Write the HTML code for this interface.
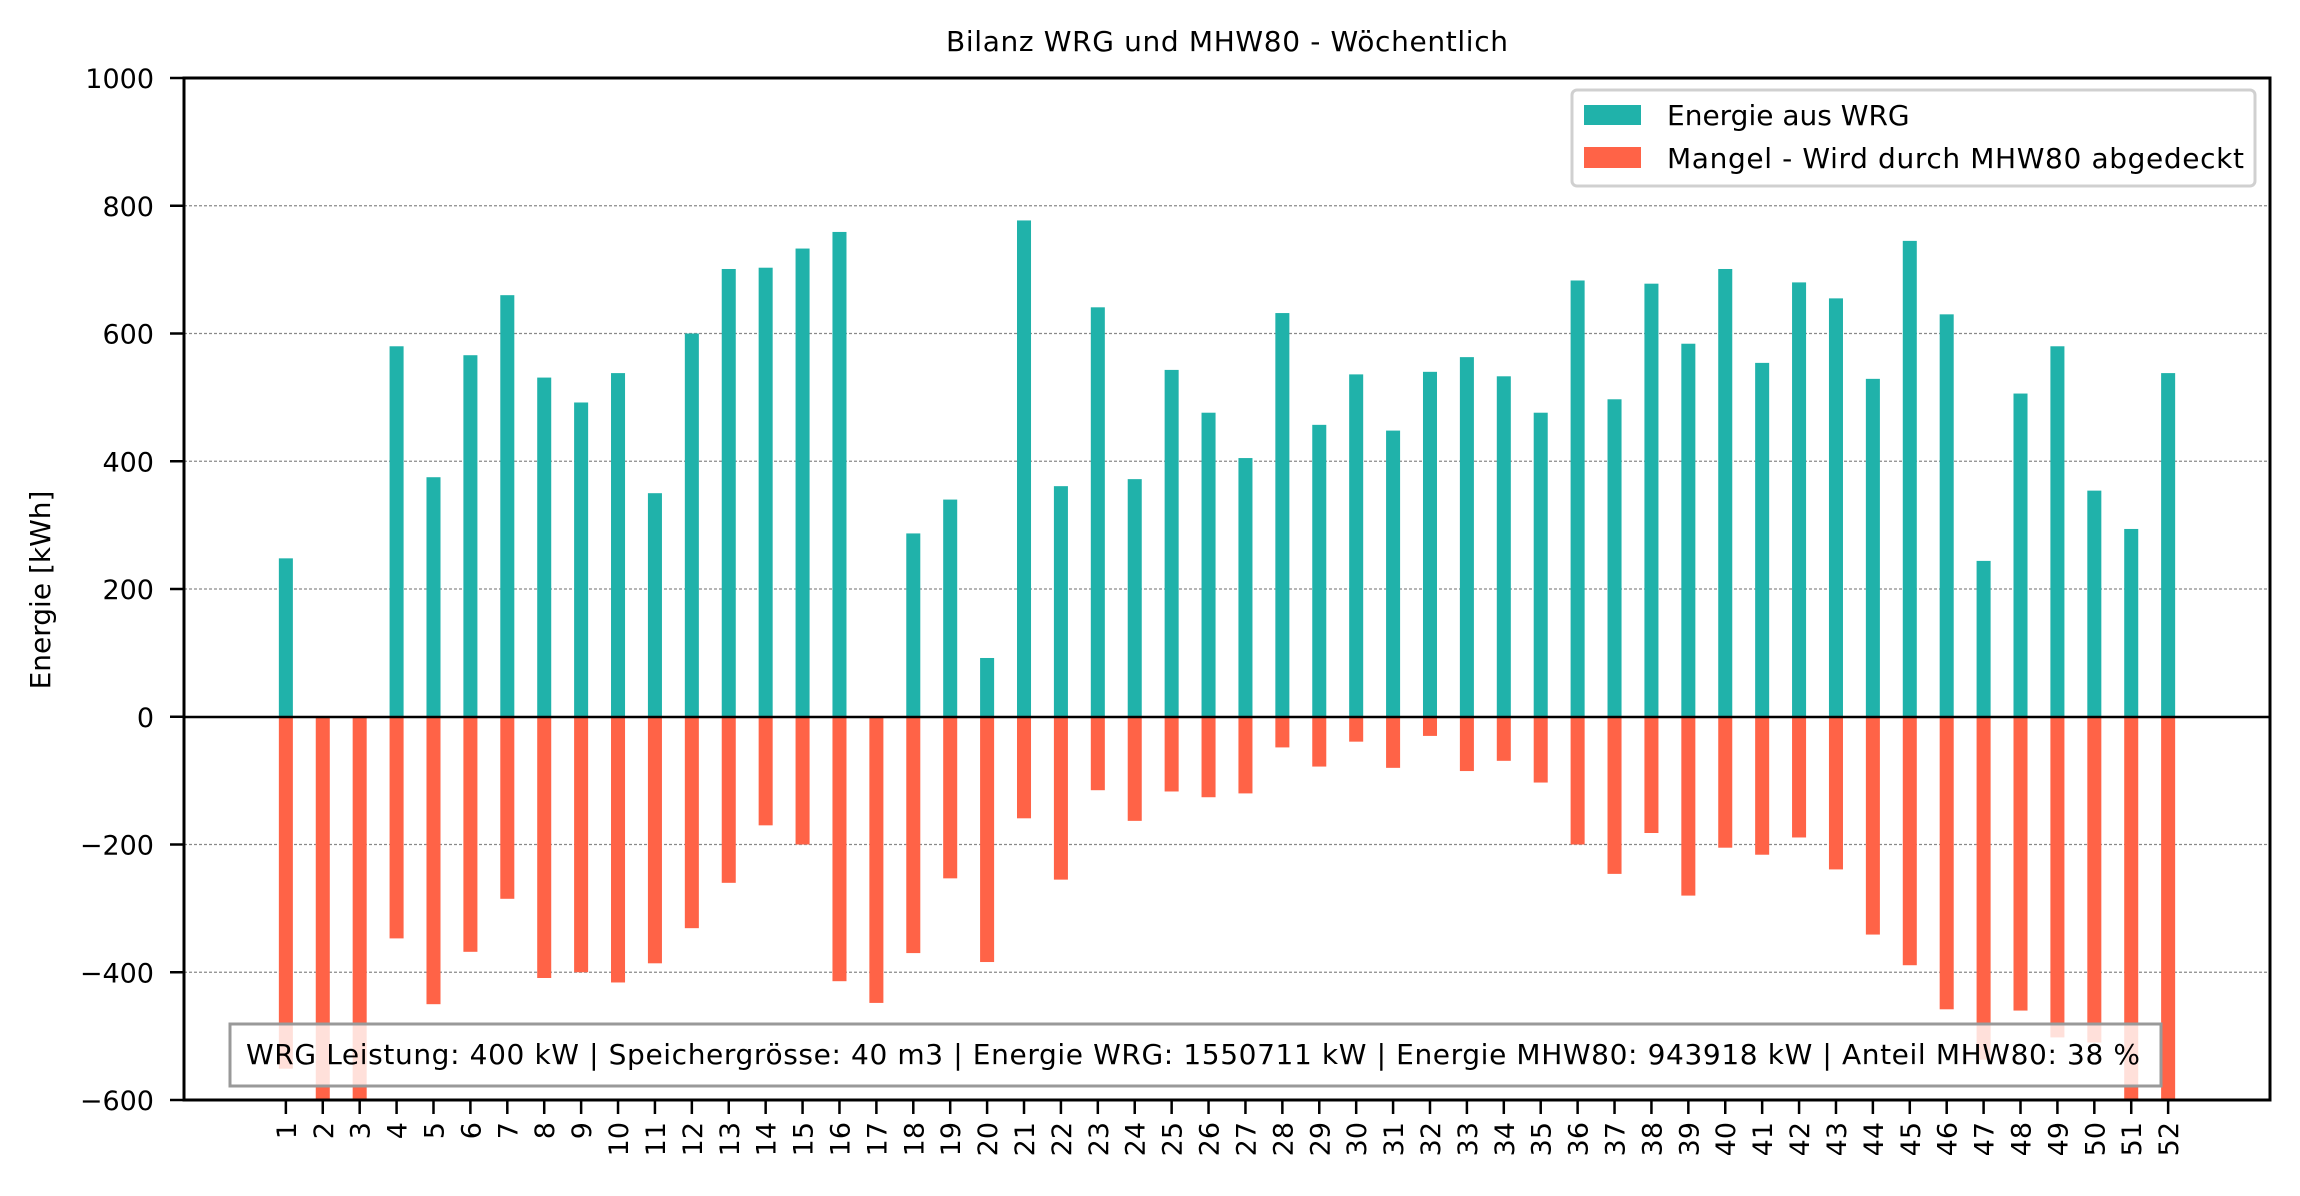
<!DOCTYPE html>
<html><head><meta charset="utf-8"><style>
html,body{margin:0;padding:0;background:#fff;}
svg{display:block;font-family:"DejaVu Sans","Liberation Sans",sans-serif;}
</style></head><body>
<svg id="chart" width="2300" height="1196" viewBox="0 0 2300 1196" xmlns="http://www.w3.org/2000/svg">
<defs><clipPath id="clip"><rect x="184" y="78" width="2086" height="1022"/></clipPath></defs>
<rect width="2300" height="1196" fill="#fff"/>
<text x="1227" y="51" text-anchor="middle" font-size="28" textLength="562">Bilanz WRG und MHW80 - Wöchentlich</text>
<text transform="translate(50,590) rotate(-90)" text-anchor="middle" font-size="28">Energie [kWh]</text>
<g id="grid"></g>
<g id="bars" clip-path="url(#clip)"></g>
<line x1="184" y1="717" x2="2270" y2="717" stroke="#000" stroke-width="2.5"/>
<rect x="184" y="78" width="2086" height="1022" fill="none" stroke="#000" stroke-width="3"/>
<g id="yticks"></g>
<g id="xticks"></g>
<g>
<rect x="1572" y="90" width="683" height="96" rx="5" fill="#fff" fill-opacity="0.85" stroke="#d0d0d0" stroke-width="3"/>
<rect x="1584" y="105" width="57" height="20" fill="#20b2aa"/>
<text x="1667" y="125" font-size="28">Energie aus WRG</text>
<rect x="1584" y="147" width="57" height="21" fill="#ff6347"/>
<text x="1667" y="168" font-size="28" textLength="577">Mangel - Wird durch MHW80 abgedeckt</text>
</g>
<g>
<rect x="230" y="1024" width="1931" height="62" fill="#fff" fill-opacity="0.8" stroke="#999" stroke-width="3"/>
<text x="246" y="1064" font-size="28" textLength="1894">WRG Leistung: 400 kW | Speichergrösse: 40 m3 | Energie WRG: 1550711 kW | Energie MHW80: 943918 kW | Anteil MHW80: 38 %</text>
</g>
</svg>
<script>
const weeks = [1,2,3,4,5,6,7,8,9,10,11,12,13,14,15,16,17,18,19,20,21,22,23,24,25,26,27,28,29,30,31,32,33,34,35,36,37,38,39,40,41,42,43,44,45,46,47,48,49,50,51,52];
const wrgValues = [248,0,0,580,375,566,660,531,492,538,350,600,701,703,733,759,0,287,340,92,777,361,641,372,543,476,405,632,457,536,448,540,563,533,476,683,497,678,584,701,554,680,655,529,745,630,244,506,580,354,294,538];
const mangelValues = [-551,-650,-650,-347,-450,-368,-285,-409,-400,-416,-386,-331,-260,-170,-200,-414,-448,-370,-253,-384,-159,-255,-115,-163,-117,-126,-120,-48,-78,-39,-80,-30,-85,-69,-103,-200,-246,-182,-280,-205,-216,-189,-239,-341,-389,-458,-537,-460,-502,-510,-650,-650];
const yTicks = [-600,-400,-200,0,200,400,600,800,1000];

const NS = "http://www.w3.org/2000/svg";
const X0 = 184, X1 = 2270, Y0 = 78, Y1 = 1100;
const xMin = -1.76, xMax = 54.76, yMin = -600, yMax = 1000;
function xs(v){ return X0 + (v - xMin) / (xMax - xMin) * (X1 - X0); }
function ys(v){ return Y1 - (v - yMin) / (yMax - yMin) * (Y1 - Y0); }
function mk(tag, attrs, parent){ const e = document.createElementNS(NS, tag); for (const k in attrs) e.setAttribute(k, attrs[k]); parent.appendChild(e); return e; }
const bw = 0.38 * (xs(1) - xs(0));
const gBars = document.getElementById('bars');
const gGrid = document.getElementById('grid');
const gY = document.getElementById('yticks');
const gX = document.getElementById('xticks');

yTicks.forEach(t => {
  const y = ys(t);
  if (t !== 0 && t !== yMin && t !== yMax) {
    const gl = mk('line', {x1: X0, x2: X1, y1: y, y2: y, stroke: '#8a8a8a', 'stroke-width': 1.2, 'stroke-dasharray': '3,2'}, gGrid);
    
    
  }
  const tk = mk('line', {x1: X0 - 14, x2: X0, y1: y, y2: y, stroke: '#000', 'stroke-width': 2.5}, gY);
  
  
  const tl = mk('text', {x: X0 - 30, y: y + 10, 'text-anchor': 'end', 'font-size': 27}, gY);
  tl.textContent = t < 0 ? '\u2212' + Math.abs(t) : String(t);
  
  
});

weeks.forEach((w, i) => {
  const cx = xs(w);
  const v = wrgValues[i];
  if (v > 0) {
    const r = mk('rect', {x: cx - bw/2, y: ys(v), width: bw, height: ys(0) - ys(v), fill: '#20b2aa'}, gBars);
    
    
  }
  const m = mangelValues[i];
  if (m < 0) {
    const r2 = mk('rect', {x: cx - bw/2, y: ys(0), width: bw, height: ys(m) - ys(0), fill: '#ff6347'}, gBars);
    
    
  }
  const tk = mk('line', {x1: cx, x2: cx, y1: Y1, y2: Y1 + 14, stroke: '#000', 'stroke-width': 2.5}, gX);
  
  
  const tl = mk('text', {transform: 'translate(' + (cx + 10) + ',' + (Y1 + 22) + ') rotate(-90)', 'text-anchor': 'end', 'font-size': 27}, gX);
  tl.textContent = String(w);
  
  
});
</script>
</body></html>
